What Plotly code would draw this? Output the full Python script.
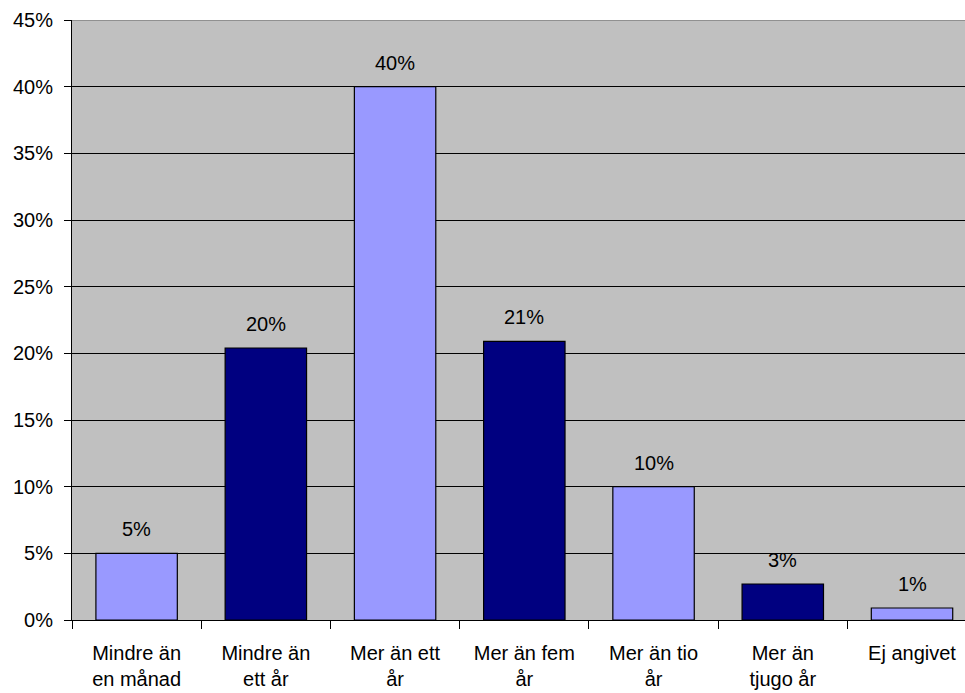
import plotly.graph_objects as go

# Survey responses: how long respondents have held the item
categories = [
    "Mindre än<br>en månad",
    "Mindre än<br>ett år",
    "Mer än ett<br>år",
    "Mer än fem<br>år",
    "Mer än tio<br>år",
    "Mer än<br>tjugo år",
    "Ej angivet",
]
shares = [0.050, 0.204, 0.400, 0.209, 0.100, 0.027, 0.009]
y_ticks = [0, 0.05, 0.10, 0.15, 0.20, 0.25, 0.30, 0.35, 0.40, 0.45]

LIGHT = "#9999FF"
DARK = "#000080"
bar_colors = [LIGHT if i % 2 == 0 else DARK for i in range(len(categories))]

FONT = "Liberation Sans, Arial, sans-serif"
FS = 20

fig = go.Figure(
    go.Bar(
        x=categories,
        y=shares,
        marker=dict(color=bar_colors, line=dict(color="black", width=1.2)),
        hoverinfo="skip",
    )
)

# Percentage labels above each bar
for cat, val in zip(categories, shares):
    fig.add_annotation(
        x=cat,
        y=val,
        text=f"{val:.0%}",
        showarrow=False,
        yanchor="bottom",
        yshift=11,
        font=dict(family=FONT, size=FS, color="black"),
    )

# Gray border along the top of the plot area
fig.add_shape(
    type="line",
    xref="paper",
    yref="y",
    x0=0,
    x1=1,
    y0=0.45,
    y1=0.45,
    line=dict(color="#808080", width=1.5),
    layer="above",
)

fig.update_layout(
    width=965,
    height=693,
    margin=dict(l=72, r=0, t=20, b=73),
    paper_bgcolor="white",
    plot_bgcolor="#C0C0C0",
    bargap=0.37,
    showlegend=False,
    font=dict(family=FONT, size=FS, color="black"),
    xaxis=dict(
        type="category",
        range=[-0.5, 6.41],
        tickson="boundaries",
        ticks="outside",
        ticklen=8,
        tickcolor="black",
        tickwidth=1,
        showline=True,
        linecolor="black",
        linewidth=1,
        showgrid=False,
        tickfont=dict(family=FONT, size=FS, color="black"),
        ticklabelstandoff=15,
    ),
    yaxis=dict(
        range=[0, 0.45],
        tickvals=y_ticks,
        tickformat=".0%",
        ticks="outside",
        ticklen=7,
        tickcolor="black",
        showline=True,
        linecolor="black",
        linewidth=1,
        showgrid=True,
        gridcolor="black",
        gridwidth=1,
        zeroline=False,
        tickfont=dict(family=FONT, size=FS, color="black"),
        ticklabelstandoff=7,
    ),
)

fig.write_html("out.html")
